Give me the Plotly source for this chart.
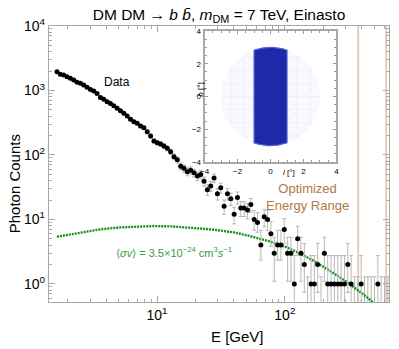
import numpy as np
import plotly.graph_objects as go

# ---------------- data ----------------
E_MIN, E_MAX, N_BINS = 1.65, 640.0, 100          # log-uniform energy binning [GeV]
energy = np.logspace(np.log10(E_MIN), np.log10(E_MAX), N_BINS)

counts = [
    1950, 1780, 1740, 1640, 1545, 1456, 1340, 1290, 1220, 1120,
    1040, 980, 900, 775, 730, 670, 630, 580, 530, 486,
    443, 403, 357, 328, 310, 282, 265, 230, 197, 165,
    155, 148, 138, 127, 112, 94, 84, 67, 62, 55,
    58, 53, 47, 50, 39, 29, 33, 44, 25, 31,
    16, 25, 21, 12, 22, 15, 15, 14, 17, 10,
    9, 4, 11, 10, 6, 3, 4, 4, 7, 3,
    3, 1, 5, 3, 2, 0, 1, 1, 2, 0,
    3, 1, 1, 1, 1, 1, 1, 2, 1, 0,
    0, 1, 0, 0, 0, 0, 1, 0, 0, 0,
]

# Feldman-Cousins 68% intervals for small counts
FC_LOW = [0.00, 0.37, 0.74, 1.10, 2.34, 2.75, 3.82, 4.25, 5.30, 6.33, 6.78]
FC_HIGH = [1.29, 2.75, 4.25, 5.30, 6.78, 7.81, 9.28, 10.30, 11.32, 12.79, 13.81]

model_E = [1.65, 2.5, 3.55, 5, 7, 9.5, 13, 20, 27, 40, 52, 75, 100, 130, 170, 230, 300, 400, 500, 560]
model_counts = [5.4, 6.3, 7.0, 7.5, 7.8, 7.9, 7.8, 7.4, 7.0, 6.3, 5.6, 4.6, 3.8, 3.0, 2.25, 1.55, 1.1, 0.72, 0.5, 0.42]

opt_range = [375, 620]        # optimized energy range boundaries [GeV]

y_ticks = [1, 10, 100, 1000, 10000]
y_ticktext = ["10<sup>0</sup>", "10<sup>1</sup>", "10<sup>2</sup>", "10<sup>3</sup>", "10<sup>4</sup>"]
x_ticks = [10, 100]
x_ticktext = ["10<sup>1</sup>", "10<sup>2</sup>"]

# inset (ROI) geometry
ROI_RADIUS = 3.0
ROI_HALF_WIDTH_L = 1.0
inset_ticks = [-4, -2, 0, 2, 4]

# ---------------- derived ----------------
def interval(n):
    if n <= 10:
        return FC_LOW[n], FC_HIGH[n]
    return n - np.sqrt(n), n + np.sqrt(n)

E_pos, C_pos, e_up, e_dn = [], [], [], []
E_zero, zero_up = [], []
for e, n in zip(energy, counts):
    lo, hi = interval(n)
    if n > 0:
        E_pos.append(e); C_pos.append(n)
        e_up.append(hi - n); e_dn.append(n - lo)
    else:
        E_zero.append(e); zero_up.append(hi)

GRAY = "#b8b8b8"
fig = go.Figure()

# zero-count bins: only upper-limit bars
fig.add_trace(go.Scatter(
    x=E_zero, y=zero_up, mode="markers",
    marker=dict(size=1, color="rgba(0,0,0,0)"),
    error_y=dict(type="data", symmetric=False, array=[0] * len(E_zero),
                 arrayminus=zero_up, color=GRAY, thickness=1, width=2),
    xaxis="x", yaxis="y", hoverinfo="skip"))

# model curve
fig.add_trace(go.Scatter(
    x=model_E, y=model_counts, mode="lines",
    line=dict(color="rgb(25,140,25)", width=2.4, dash="2px,1px"),
    xaxis="x", yaxis="y"))

# data
fig.add_trace(go.Scatter(
    x=E_pos, y=C_pos, mode="markers",
    marker=dict(size=5, color="black"),
    error_y=dict(type="data", symmetric=False, array=e_up, arrayminus=e_dn,
                 color=GRAY, thickness=1, width=2),
    xaxis="x", yaxis="y"))

# ---- inset: ROI ----
grid_x, grid_y = [], []
for v in np.arange(-2.4, 2.41, 0.8):
    h = np.sqrt(ROI_RADIUS**2 - v**2)
    grid_x += [v, v, None, -h, h, None]
    grid_y += [-h, h, None, v, v, None]
for c in np.arange(-4.0, 4.01, 0.5):
    disc = 2 * ROI_RADIUS**2 - c**2
    if disc > 0:
        t1 = (c - np.sqrt(disc)) / 2
        t2 = (c + np.sqrt(disc)) / 2
        grid_x += [t1, t2, None]
        grid_y += [t1 - c, t2 - c, None]
th = np.linspace(0, 2 * np.pi, 120)
fig.add_trace(go.Scatter(
    x=ROI_RADIUS * np.cos(th), y=ROI_RADIUS * np.sin(th), mode="lines",
    fill="toself", fillcolor="rgba(248,248,254,0.8)", line=dict(width=0),
    xaxis="x2", yaxis="y2", hoverinfo="skip"))
fig.add_trace(go.Scatter(
    x=grid_x, y=grid_y, mode="lines",
    line=dict(color="rgba(222,222,246,0.5)", width=0.6),
    xaxis="x2", yaxis="y2", hoverinfo="skip"))

ls = np.linspace(-ROI_HALF_WIDTH_L, ROI_HALF_WIDTH_L, 25)
top = np.sqrt(ROI_RADIUS**2 - ls**2)
bx = list(ls) + list(ls[::-1]) + [ls[0]]
by = list(top) + list(-top[::-1]) + [top[0]]
fig.add_trace(go.Scatter(
    x=bx, y=by, mode="lines", fill="toself",
    fillcolor="rgb(30,40,168)", line=dict(color="rgb(80,100,205)", width=1.2),
    xaxis="x2", yaxis="y2", hoverinfo="skip"))

shapes = [dict(type="line", xref="x", yref="paper", x0=v, x1=v, y0=0, y1=1,
               line=dict(color="rgb(226,206,188)", width=2), layer="below")
          for v in opt_range]

FRAME = "#a8a8a8"
minor_y = [m * 10**k for k in range(-1, 4) for m in range(2, 10)]
minor_x = [m * 10**k for k in range(0, 3) for m in range(2, 10)]

# the page body has an 8px margin: size the figure so the plot lands where it should
OFF = 8
W, H = 399 - OFF, 349 - OFF
L, T = 49 - OFF, 26 - OFF
R = W - (392 - OFF)
B = H - (302 - OFF)

fig.update_layout(
    width=W, height=H,
    margin=dict(l=L, r=R, t=T, b=B, pad=0),
    plot_bgcolor="white", paper_bgcolor="white",
    showlegend=False,
    font=dict(family="Liberation Sans, Arial, sans-serif", color="black", size=14),
    title=dict(text="DM DM → <i>b</i> <i>b̄</i>, <i>m</i><sub>DM</sub> = 7 TeV, Einasto",
               x=0.5, xref="paper", xanchor="center",
               y=1 - (14.5 - OFF) / H, yref="container", yanchor="middle",
               font=dict(size=15.5)),
    xaxis=dict(type="log", range=[0.155, 2.815], domain=[0, 1],
               tickvals=x_ticks, ticktext=x_ticktext, ticks="inside", ticklen=6,
               tickcolor=FRAME, showline=True, linecolor=FRAME, linewidth=1.3,
               mirror="ticks", showgrid=False, zeroline=False,
               tickfont=dict(size=14),
               minor=dict(tickvals=minor_x, ticks="inside", ticklen=3, tickcolor=FRAME)),
    yaxis=dict(type="log", range=[-0.28, 4.0], domain=[0, 1],
               tickvals=y_ticks, ticktext=y_ticktext, ticks="inside", ticklen=6,
               tickcolor=FRAME, showline=True, linecolor=FRAME, linewidth=1.3,
               mirror="ticks", showgrid=False, zeroline=False,
               tickfont=dict(size=14),
               minor=dict(tickvals=minor_y, ticks="inside", ticklen=3, tickcolor=FRAME)),
    xaxis2=dict(range=[-4, 4], domain=[0.4577, 0.8455], anchor="y2",
                tickvals=inset_ticks, ticks="inside", ticklen=3, tickcolor="#999",
                showline=True, linecolor=FRAME, linewidth=2, mirror="ticks",
                showgrid=False, zeroline=False, tickfont=dict(size=8),
                minor=dict(dtick=0.5, ticks="inside", ticklen=2, tickcolor="#999")),
    yaxis2=dict(range=[-4, 4], domain=[0.5072, 0.9819], anchor="x2",
                tickvals=inset_ticks, ticks="inside", ticklen=3, tickcolor="#999",
                showline=True, linecolor=FRAME, linewidth=2, mirror="ticks",
                showgrid=False, zeroline=False, tickfont=dict(size=8),
                minor=dict(dtick=0.5, ticks="inside", ticklen=2, tickcolor="#999")),
    shapes=shapes,
)

def px(x):  # paper x from window pixel
    return (x - 49) / 343

def py(y):  # paper y from window pixel
    return (302 - y) / 276

ann = [
    dict(text="Photon Counts", x=px(14), y=py(184), textangle=-90, font=dict(size=15)),
    dict(text="E [GeV]", x=px(239), y=py(336), font=dict(size=15)),
    dict(text="Data", x=px(118), y=py(82), font=dict(size=12)),
    dict(text="⟨<i>σv</i>⟩ = 3.5×10<sup>−24</sup> cm<sup>3</sup><i>s</i><sup>−1</sup>",
         x=px(175), y=py(252), font=dict(size=11, color="rgb(50,160,50)")),
    dict(text="Optimized<br>Energy Range", x=px(310), y=py(197),
         font=dict(size=13, color="rgb(176,122,66)")),
    dict(text="<i>b</i> [°]", x=px(201), y=py(90), textangle=-90, font=dict(size=8)),
    dict(text="<i>l</i> [°]", x=px(291), y=py(172), font=dict(size=8)),
]
for a in ann:
    a.update(xref="paper", yref="paper", showarrow=False, xanchor="center", yanchor="middle")
fig.update_layout(annotations=ann)

fig.write_html("out.html")
